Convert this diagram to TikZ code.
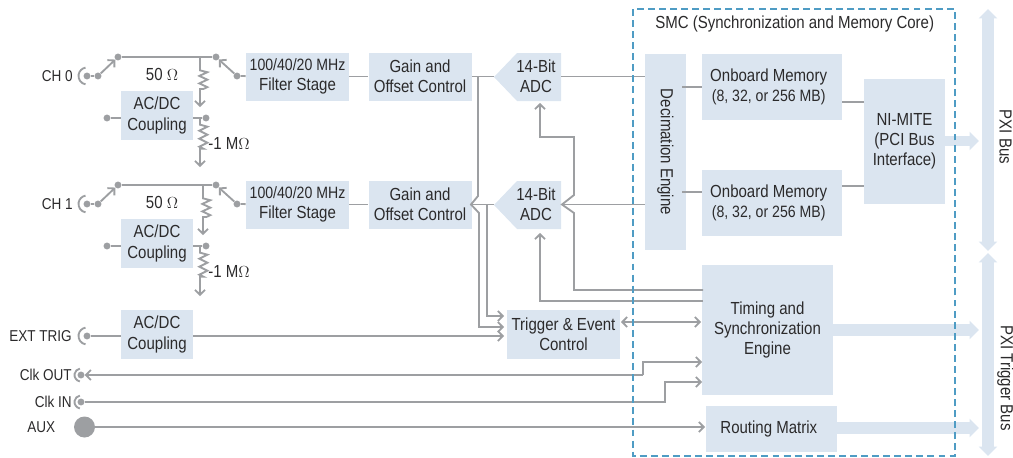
\documentclass[tikz,border=0pt]{standalone}
\usepackage{fontspec}
\setmainfont{Liberation Sans}[FakeStretch=0.86]
\usetikzlibrary{arrows.meta, decorations.pathmorphing, positioning}

\definecolor{blockfill}{HTML}{DBE5F0}
\definecolor{wiregray}{HTML}{9D9FA2}
\definecolor{smcblue}{HTML}{4F9CC4}
\definecolor{labelink}{HTML}{2B2A2B}

\newcommand{\smalldigits}{\fontsize{12.3}{15.2}\selectfont}

\begin{document}
\begin{tikzpicture}[x=0.75pt, y=-0.75pt, node distance=0.0cm]
    \tikzset{
        block/.style={
            rectangle,
            fill=blockfill,
            inner sep=0pt,
            align=center,
            text=labelink,
            font=\fontsize{13.1}{15.2}\selectfont
        },
        tag/.style={
            inner sep=0pt,
            align=center,
            text=labelink,
            font=\fontsize{13.1}{15.2}\selectfont
        },
        porttag/.style={
            tag,
            font=\fontsize{11.8}{15.2}\selectfont
        },
        wire/.style={
            draw=wiregray,
            line width=1.4pt,
            >={Straight Barb[length=3.6pt,width=7.5pt]}
        },
        termdot/.style={
            circle,
            fill=wiregray,
            inner sep=0pt,
            minimum size=5.2pt
        },
        resistor/.style={
            wire,
            decorate,
            decoration={zigzag, amplitude=3pt, segment length=5.6pt, pre length=10pt, post length=11pt, raise=2.5pt}
        },
        shunt/.style={
            wire,
            decorate,
            decoration={zigzag, amplitude=3pt, segment length=6pt, pre length=5pt, post length=13pt, raise=2.5pt}
        },
        busarrow/.style={
            draw=blockfill,
            line width=9pt,
            -{Triangle[length=7pt,width=13.5pt]}
        }
    }

    \useasboundingbox (0,0) rectangle (1013,457);

    % buses on the right
    \coordinate (pxitop) at (988,9);
    \coordinate (pxibot) at (988,251);
    \coordinate (trigtop) at (988,253);
    \coordinate (trigbot) at (988,456);
    \draw[busarrow, {Triangle[length=7pt,width=13.5pt]}-{Triangle[length=7pt,width=13.5pt]}] (pxitop) -- (pxibot);
    \draw[busarrow, {Triangle[length=7pt,width=13.5pt]}-{Triangle[length=7pt,width=13.5pt]}] (trigtop) -- (trigbot);
    \node[tag, rotate=-90] (pxilabel) at (1005.5,137) {PXI Bus};
    \node[tag, rotate=-90] (triglabel) at (1005.5,378) {PXI Trigger Bus};

    % channel 0
    \node[porttag, anchor=east] (ch0label) at (73,76) {CH 0};
    \node[termdot] (jack0) at (87,76) {};
    \node[termdot] (swa0) at (98,76) {};
    \node[termdot] (swb0) at (118,57) {};
    \node[termdot] (swc0) at (216,57) {};
    \node[termdot] (swd0) at (237,76) {};
    \node[block, minimum width=103*0.75pt, minimum height=36pt] (filter0) at (297.5,76.5) {\smalldigits 100/40/20 MHz\\Filter Stage};
    \node[block, minimum width=103*0.75pt, minimum height=36pt, right=14.25pt of filter0] (gain0) {Gain and\\Offset Control};
    \node[tag] (ohm0) at (162,74) {50 $\Omega$};
    \node[block, minimum width=54pt, minimum height=36.75pt] (acdc0) at (157,115.5) {AC/DC\\Coupling};
    \node[termdot] (acl0) at (107,118) {};
    \node[termdot] (acr0) at (206,118) {};
    \node[tag, anchor=west] (meg0) at (208,143) {-1 M$\Omega$};
    \coordinate (resa0) at (200,57);
    \coordinate (resb0) at (200,107);
    \coordinate (resc0) at (200,118);
    \coordinate (resd0) at (200,167);

    \draw[wire] (jack0) ++(100:8.5) arc[start angle=100, end angle=260, radius=8.5];
    \draw[wire] (jack0) -- (swa0);
    \draw[wire, ->] (swa0) -- (swb0);
    \draw[wire] (swb0) -- (swc0);
    \draw[wire, ->] (swd0) -- (swc0);
    \draw[wire] (swd0) -- (filter0);
    \draw[resistor, ->] (resa0) -- (resb0);
    \draw[wire] (acl0) -- (acdc0.west |- acl0);
    \draw[wire] (acdc0.east |- acr0) -- (acr0);
    \draw[shunt, ->] (resc0) -- (resd0);

    % channel 1
    \node[porttag, anchor=east] (ch1label) at (73,204) {CH 1};
    \node[termdot] (jack1) at (87,204) {};
    \node[termdot] (swa1) at (98,204) {};
    \node[termdot] (swb1) at (118,185) {};
    \node[termdot] (swc1) at (216,185) {};
    \node[termdot] (swd1) at (237,204) {};
    \node[block, minimum width=103*0.75pt, minimum height=36pt] (filter1) at (297.5,204.5) {\smalldigits 100/40/20 MHz\\Filter Stage};
    \node[block, minimum width=103*0.75pt, minimum height=36pt, right=14.25pt of filter1] (gain1) {Gain and\\Offset Control};
    \node[tag] (ohm1) at (162,202) {50 $\Omega$};
    \node[block, minimum width=54pt, minimum height=36.75pt] (acdc1) at (157,243.5) {AC/DC\\Coupling};
    \node[termdot] (acl1) at (107,246) {};
    \node[termdot] (acr1) at (206,246) {};
    \node[tag, anchor=west] (meg1) at (208,271) {-1 M$\Omega$};
    \coordinate (resa1) at (203,185);
    \coordinate (resb1) at (203,235);
    \coordinate (resc1) at (200,246);
    \coordinate (resd1) at (200,296);

    \draw[wire] (jack1) ++(100:8.5) arc[start angle=100, end angle=260, radius=8.5];
    \draw[wire] (jack1) -- (swa1);
    \draw[wire, ->] (swa1) -- (swb1);
    \draw[wire] (swb1) -- (swc1);
    \draw[wire, ->] (swd1) -- (swc1);
    \draw[wire] (swd1) -- (filter1);
    \draw[resistor, ->] (resa1) -- (resb1);
    \draw[wire] (acl1) -- (acdc1.west |- acl1);
    \draw[wire] (acdc1.east |- acr1) -- (acr1);
    \draw[shunt, ->] (resc1) -- (resd1);

    % converters
    \fill[blockfill] (517,53) -- (561,53) -- (561,101) -- (517,101) -- (494,77) -- cycle;
    \fill[blockfill] (517,181) -- (561,181) -- (561,229) -- (517,229) -- (494,205) -- cycle;
    \node[tag, minimum width=37.5pt, minimum height=36pt] (adc0) at (536,76.5) {14-Bit\\ADC};
    \node[tag, minimum width=37.5pt, minimum height=36pt] (adc1) at (536,204.5) {14-Bit\\ADC};
    \coordinate (adctip0) at (494,76.5);
    \coordinate (adctip1) at (494,204.5);

    % SMC blocks
    \node[block, rotate=-90, minimum width=147pt, minimum height=30.75pt] (decim) at (665.5,152) {Decimation Engine};
    \node[block, minimum width=105pt, minimum height=49.5pt] (mem0) at (772,87) {Onboard Memory\hspace*{5pt}\\\smalldigits (8, 32, or 256 MB)\hspace*{5pt}};
    \node[block, minimum width=105pt, minimum height=49.5pt] (mem1) at (772,203) {Onboard Memory\hspace*{5pt}\\\smalldigits (8, 32, or 256 MB)\hspace*{5pt}};
    \node[block, minimum width=60.75pt, minimum height=93.75pt] (mite) at (904.5,141.5) {NI-MITE\\(PCI Bus\\Interface)};
    \node[block, minimum width=98.25pt, minimum height=97.5pt] (timing) at (767.5,330) {Timing and\\Synchronization\\Engine};
    \node[block, minimum width=98.25pt, minimum height=34.5pt] (routing) at (771.5,429) {Routing Matrix\hspace*{4pt}};
    \node[block, minimum width=84.75pt, minimum height=36.75pt] (trigger) at (563.5,334.5) {Trigger \& Event\\Control};
    \node[tag, anchor=west] (smclabel) at (655,24) {SMC (Synchronization and Memory Core)};

    % lower inputs
    \node[porttag, anchor=east] (extlabel) at (72,336) {EXT TRIG};
    \node[porttag, anchor=east] (outlabel) at (72,375) {Clk OUT};
    \node[porttag, anchor=east] (inlabel) at (72,402) {Clk IN};
    \node[porttag, anchor=west] (auxlabel) at (27,427) {AUX};
    \node[termdot] (jackext) at (87,336) {};
    \node[termdot] (jackout) at (81,375) {};
    \node[termdot] (jackin) at (81,402) {};
    \node[circle, fill=wiregray, inner sep=0pt, minimum size=15.75pt] (jackaux) at (84.5,427) {};
    \node[block, minimum width=54pt, minimum height=36.75pt] (acdc2) at (157,334.5) {AC/DC\\Coupling};

    % fat arrows out of the SMC
    \coordinate (mitebus) at (979,141);
    \coordinate (timingbus) at (979,330);
    \coordinate (routingbus) at (979,428);
    \coordinate (miteout) at (945,141);
    \draw[busarrow, line width=7.5pt] (miteout) -- (mitebus);
    \draw[busarrow] (timing.east) -- (timingbus);
    \draw[busarrow] (routing.east |- routingbus) -- (routingbus);

    % signal path
    \draw[wire] (filter0) -- (gain0);
    \draw[wire] (filter1) -- (gain1);
    \draw[wire] (gain0) -- (adctip0);
    \draw[wire] (gain1) -- (adctip1);
    \draw[wire] (adc0.east) -- (decim.south |- adc0.east);
    \draw[wire] (adc1.east) -- (decim.south |- adc1.east);
    \coordinate (decout0) at (682,87);
    \coordinate (decout1) at (682,192);
    \draw[wire] (decout0) -- (mem0.west |- decout0);
    \draw[wire] (decout1) -- (mem1.west |- decout1);
    \coordinate (memout0) at (842,102);
    \coordinate (memout1) at (842,186);
    \draw[wire] (memout0) -- (mite.west |- memout0);
    \draw[wire] (memout1) -- (mite.west |- memout1);

    % trigger feeds from the two gain stages
    \coordinate (feeda) at (478,76.5);
    \coordinate (feedb) at (487,204.5);
    \coordinate (trigina) at (504,316);
    \coordinate (triginb) at (504,327);
    \coordinate (triginc) at (504,336);
    \draw[wire, ->] (feeda) -- (478,196) -- (471,204.5) -- (479,213) |- (triginb);
    \draw[wire, ->] (feedb) |- (trigina);
    \draw[wire, ->] (acdc2.east |- triginc) -- (triginc);
    \draw[wire] (jackext) ++(100:8.5) arc[start angle=100, end angle=260, radius=8.5];
    \draw[wire] (jackext) -- (acdc2.west |- jackext);

    % timing lines to the converters
    \coordinate (timea) at (703,290);
    \coordinate (timeb) at (703,301);
    \coordinate (adcclk0) at (540,103);
    \coordinate (adcclk1) at (540,233);
    \draw[wire, ->] (timea) -| (574,213) -- (562,204.5) -- (574,195) |- (540,137) -- (adcclk0);
    \draw[wire, ->] (timeb) -| (adcclk1);

    % trigger to timing, clocks, aux
    \coordinate (trigport) at (621,322);
    \coordinate (timeport) at (701,322);
    \coordinate (clkouta) at (702,362);
    \coordinate (clkina) at (702,382);
    \coordinate (routeport) at (705,427);
    \draw[wire, <->] (trigport) -- (timeport);
    \draw[wire, ->] (643,375) |- (clkouta);
    \draw[wire, ->] (643,375) -- (jackout);
    \draw[wire] (jackout) ++(100:6.5) arc[start angle=100, end angle=260, radius=6.5];
    \draw[wire, ->] (jackin) -- (665,402) |- (clkina);
    \draw[wire] (jackin) ++(100:6.5) arc[start angle=100, end angle=260, radius=6.5];
    \draw[wire, ->] (jackaux) -- (routeport);

    % SMC outline goes on top
    \draw[smcblue, line width=1.3pt, dash pattern=on 5.2pt off 3.1pt] (633,9) rectangle (955,456);

\end{tikzpicture}
\end{document}
